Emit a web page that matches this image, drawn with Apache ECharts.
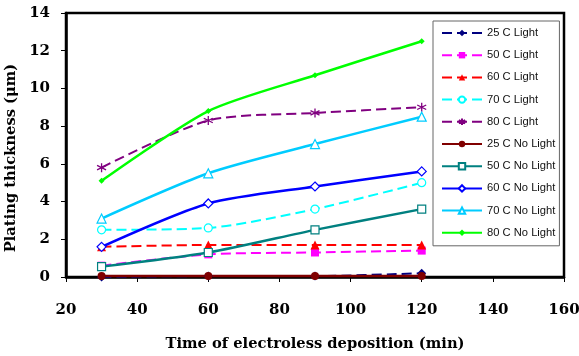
<!DOCTYPE html>
<html>
<head>
<meta charset="utf-8">
<script src="https://cdn.jsdelivr.net/npm/echarts@6/dist/echarts.min.js"></script>
<style>
  html, body { margin: 0; padding: 0; background: #fff; }
  #chart { width: 579px; height: 356px; }
</style>
</head>
<body>
<div id="chart"></div>
<script>
// 时间 (min)
const times = [30, 60, 90, 120];

// 镀层厚度 (μm)
const light25 = [0.0, 0.05, 0.05, 0.2];
const light50 = [0.6, 1.2, 1.3, 1.4];
const light60 = [1.6, 1.7, 1.7, 1.7];
const light70 = [2.5, 2.6, 3.6, 5.0];
const light80 = [5.8, 8.3, 8.7, 9.0];
const noLight25 = [0.05, 0.05, 0.05, 0.05];
const noLight50 = [0.55, 1.3, 2.5, 3.6];
const noLight60 = [1.6, 3.9, 4.8, 5.6];
const noLight70 = [3.1, 5.5, 7.05, 8.5];
const noLight80 = [5.1, 8.8, 10.7, 12.5];

const starPath = 'path://M5,0L5,10M0.7,2.5L9.3,7.5M0.7,7.5L9.3,2.5';

function pairs(values) {
  return times.map((t, i) => [t, values[i]]);
}

// 生成系列
function makeSeries(name, values, color, dashed, symbol, hollow, size) {
  return {
    name: name,
    type: 'line',
    data: pairs(values),
    smooth: 0.25,
    symbol: symbol,
    symbolSize: size || 8,
    lineStyle: {
      color: color,
      width: dashed ? 2 : 2.5,
      type: dashed ? [10, 5] : 'solid',
    },
    itemStyle: {
      color: hollow ? '#fff' : color,
      borderColor: color,
      borderWidth: hollow ? 1.2 : (symbol === starPath ? 1.3 : 0),
    },
    emphasis: { disabled: true },
  };
}

const series = [
  makeSeries('25 C Light', light25, '#000080', true, 'diamond', false, 9),
  makeSeries('50 C Light', light50, '#ff00ff', true, 'rect', false, 8),
  makeSeries('60 C Light', light60, '#ff0000', true, 'triangle', false, 9),
  makeSeries('70 C Light', light70, '#00ffff', true, 'circle', true, 8),
  makeSeries('80 C Light', light80, '#800080', true, starPath, false, 9),
  makeSeries('25 C No Light', noLight25, '#800000', false, 'circle', false, 8),
  makeSeries('50 C No Light', noLight50, '#008080', false, 'rect', true, 8),
  makeSeries('60 C No Light', noLight60, '#0000ff', false, 'diamond', true, 9),
  makeSeries('70 C No Light', noLight70, '#00ccff', false, 'triangle', true, 9),
  makeSeries('80 C No Light', noLight80, '#00ff00', false, 'diamond', false, 6),
];

const labelFont = {
  fontFamily: 'DejaVu Serif',
  fontWeight: 'bold',
  fontSize: 15,
  color: '#000',
};

const nameFont = {
  fontFamily: 'DejaVu Serif',
  fontWeight: 'bold',
  fontSize: 14.7,
  color: '#000',
};

const option = {
  animation: false,
  backgroundColor: '#fff',
  grid: {
    left: 66,
    right: 15,
    top: 13,
    bottom: 79,
    outerBoundsMode: 'none',
    containLabel: false,
    show: true,
    borderColor: '#000',
    borderWidth: 2.5,
    backgroundColor: '#fff',
  },
  legend: {
    orient: 'vertical',
    left: 433,
    top: 21,
    padding: [6, 4, 7, 8],
    itemWidth: 40,
    itemHeight: 8,
    itemGap: 10.2,
    backgroundColor: '#fff',
    borderColor: '#666',
    borderWidth: 1,
    borderRadius: 0,
    textStyle: {
      fontFamily: 'Liberation Sans',
      fontSize: 11.2,
      lineHeight: 12,
      color: '#111',
    },
    data: series.map(s => s.name),
  },
  xAxis: {
    type: 'value',
    min: 20,
    max: 160,
    interval: 20,
    name: 'Time of electroless deposition (min)',
    nameLocation: 'middle',
    nameGap: 60,
    nameTextStyle: nameFont,
    axisLine: { lineStyle: { color: '#000', width: 2.5 } },
    axisTick: { show: true, inside: false, length: 5, lineStyle: { color: '#000', width: 1 } },
    axisLabel: Object.assign({ margin: 26 }, labelFont),
    splitLine: { show: false },
  },
  yAxis: {
    type: 'value',
    min: 0,
    max: 14,
    interval: 2,
    name: 'Plating thickness (μm)',
    nameLocation: 'middle',
    nameGap: 41,
    nameTextStyle: Object.assign({ padding: [0, 26, 0, 0] }, nameFont),
    axisLine: { show: true, lineStyle: { color: '#000', width: 2.5 } },
    axisTick: { show: true, inside: false, length: 5, lineStyle: { color: '#000', width: 1 } },
    axisLabel: Object.assign({ margin: 16 }, labelFont),
    splitLine: { show: false },
  },
  series: series,
};

const myChart = echarts.init(document.getElementById('chart'), null, { renderer: 'canvas' });
myChart.setOption(option);
</script>
</body>
</html>
